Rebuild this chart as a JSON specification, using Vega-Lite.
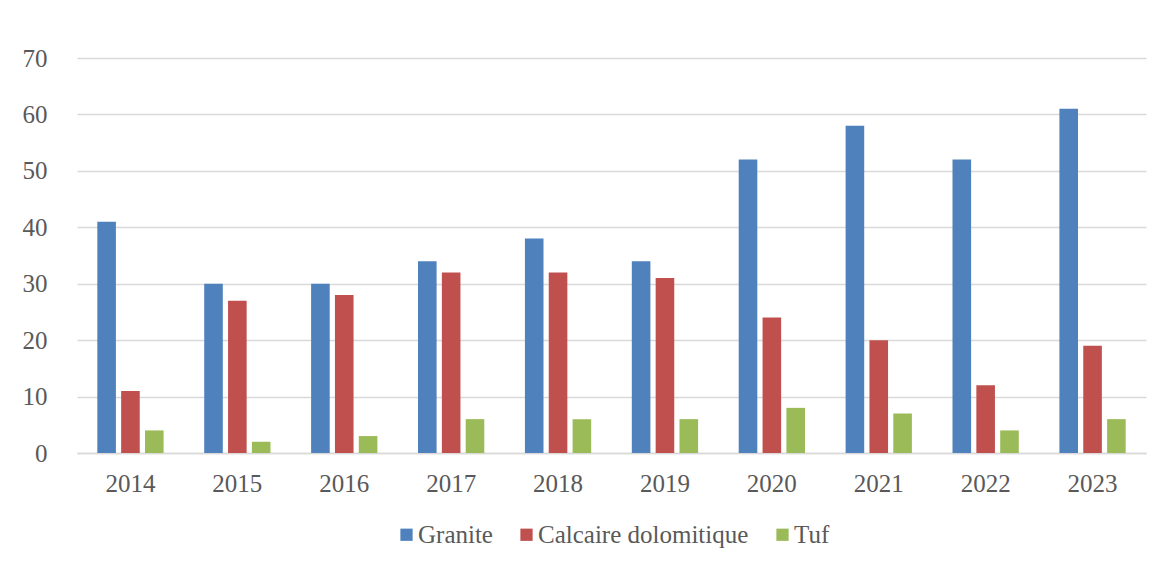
{
  "$schema": "https://vega.github.io/schema/vega-lite/v6.json",
  "width": 1069,
  "height": 395,
  "autosize": {"type": "pad"},
  "padding": {"left": 22, "top": 46, "right": 16, "bottom": 8},
  "background": "white",
  "data": {
    "values": [
      {"year": "2014", "material": "Granite", "value": 41},
      {"year": "2014", "material": "Calcaire dolomitique", "value": 11},
      {"year": "2014", "material": "Tuf", "value": 4},
      {"year": "2015", "material": "Granite", "value": 30},
      {"year": "2015", "material": "Calcaire dolomitique", "value": 27},
      {"year": "2015", "material": "Tuf", "value": 2},
      {"year": "2016", "material": "Granite", "value": 30},
      {"year": "2016", "material": "Calcaire dolomitique", "value": 28},
      {"year": "2016", "material": "Tuf", "value": 3},
      {"year": "2017", "material": "Granite", "value": 34},
      {"year": "2017", "material": "Calcaire dolomitique", "value": 32},
      {"year": "2017", "material": "Tuf", "value": 6},
      {"year": "2018", "material": "Granite", "value": 38},
      {"year": "2018", "material": "Calcaire dolomitique", "value": 32},
      {"year": "2018", "material": "Tuf", "value": 6},
      {"year": "2019", "material": "Granite", "value": 34},
      {"year": "2019", "material": "Calcaire dolomitique", "value": 31},
      {"year": "2019", "material": "Tuf", "value": 6},
      {"year": "2020", "material": "Granite", "value": 52},
      {"year": "2020", "material": "Calcaire dolomitique", "value": 24},
      {"year": "2020", "material": "Tuf", "value": 8},
      {"year": "2021", "material": "Granite", "value": 58},
      {"year": "2021", "material": "Calcaire dolomitique", "value": 20},
      {"year": "2021", "material": "Tuf", "value": 7},
      {"year": "2022", "material": "Granite", "value": 52},
      {"year": "2022", "material": "Calcaire dolomitique", "value": 12},
      {"year": "2022", "material": "Tuf", "value": 4},
      {"year": "2023", "material": "Granite", "value": 61},
      {"year": "2023", "material": "Calcaire dolomitique", "value": 19},
      {"year": "2023", "material": "Tuf", "value": 6}
    ]
  },
  "mark": {"type": "bar"},
  "encoding": {
    "x": {
      "field": "year",
      "type": "nominal",
      "scale": {"paddingInner": 0.38, "paddingOuter": 0.19},
      "axis": {
        "title": null,
        "labelAngle": 0,
        "ticks": false,
        "domain": true,
        "domainColor": "#D9D9D9",
        "domainWidth": 1.5,
        "labelPadding": 18,
        "labelFont": "Liberation Serif",
        "labelFontSize": 25,
        "labelColor": "#595959"
      }
    },
    "xOffset": {
      "field": "material",
      "type": "nominal",
      "sort": ["Granite", "Calcaire dolomitique", "Tuf"],
      "scale": {"paddingInner": 0.22}
    },
    "y": {
      "field": "value",
      "type": "quantitative",
      "scale": {"domain": [0, 70]},
      "axis": {
        "title": null,
        "values": [0, 10, 20, 30, 40, 50, 60, 70],
        "grid": true,
        "gridColor": "#D9D9D9",
        "gridWidth": 1.5,
        "domain": false,
        "ticks": false,
        "labelPadding": 30,
        "labelFont": "Liberation Serif",
        "labelFontSize": 25,
        "labelColor": "#595959"
      }
    },
    "color": {
      "field": "material",
      "type": "nominal",
      "scale": {
        "domain": ["Granite", "Calcaire dolomitique", "Tuf"],
        "range": ["#4F81BD", "#C0504D", "#9BBB59"]
      },
      "legend": {
        "title": null,
        "orient": "bottom",
        "direction": "horizontal",
        "offset": 26,
        "symbolType": "square",
        "symbolSize": 150,
        "symbolStrokeWidth": 0,
        "symbolOpacity": 1,
        "labelFont": "Liberation Serif",
        "labelFontSize": 25,
        "labelColor": "#595959",
        "labelOffset": -1,
        "labelLimit": 400,
        "columnPadding": 21
      }
    }
  },
  "config": {
    "view": {"stroke": null},
    "legend": {"layout": {"bottom": {"anchor": "middle"}}}
  }
}
